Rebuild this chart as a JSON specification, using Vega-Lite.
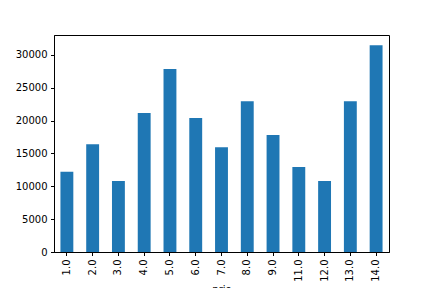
{
  "$schema": "https://vega.github.io/schema/vega-lite/v6.json",
  "width": 335,
  "height": 217,
  "autosize": {"type": "none"},
  "padding": {"left": 54, "top": 35, "right": 43, "bottom": 36},
  "background": "white",
  "config": {
    "font": "DejaVu Sans",
    "view": {"stroke": "#000000", "strokeWidth": 1},
    "axis": {
      "grid": false,
      "domainColor": "#000000",
      "tickColor": "#000000",
      "tickSize": 3.5,
      "labelPadding": 3.5,
      "labelFontSize": 10,
      "labelColor": "#000000",
      "titleFontSize": 10,
      "titleFontWeight": "normal",
      "titleColor": "#000000"
    }
  },
  "data": {
    "values": [
      {"prio": "1.0", "count": 12200},
      {"prio": "2.0", "count": 16400},
      {"prio": "3.0", "count": 10800},
      {"prio": "4.0", "count": 21150},
      {"prio": "5.0", "count": 27850},
      {"prio": "6.0", "count": 20400},
      {"prio": "7.0", "count": 15950},
      {"prio": "8.0", "count": 22950},
      {"prio": "9.0", "count": 17800},
      {"prio": "11.0", "count": 12950},
      {"prio": "12.0", "count": 10800},
      {"prio": "13.0", "count": 22950},
      {"prio": "14.0", "count": 31450}
    ]
  },
  "mark": {"type": "bar", "color": "#1f77b4"},
  "encoding": {
    "x": {
      "field": "prio",
      "type": "nominal",
      "sort": null,
      "title": "prio",
      "scale": {"paddingInner": 0.5, "paddingOuter": 0.25},
      "axis": {"labelAngle": -90, "titleY": 32, "titleBaseline": "top"}
    },
    "y": {
      "field": "count",
      "type": "quantitative",
      "title": null,
      "scale": {"domain": [0, 33020], "nice": false, "zero": true},
      "axis": {"values": [0, 5000, 10000, 15000, 20000, 25000, 30000], "format": "d"}
    }
  }
}
